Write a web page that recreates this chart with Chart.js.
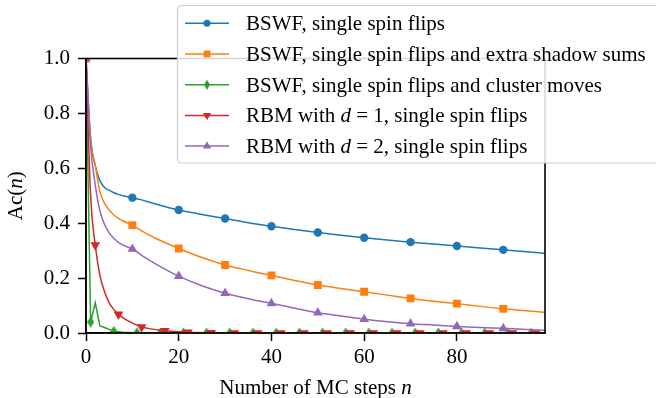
<!DOCTYPE html>
<html>
<head>
<meta charset="utf-8">
<script src="https://cdn.jsdelivr.net/npm/chart.js@4.4.0/dist/chart.umd.min.js"></script>
<style>
  html, body { margin: 0; padding: 0; background: #fff; }
  #wrap { width: 656px; height: 398px; }
</style>
</head>
<body>
<div id="wrap"><canvas id="acChart" width="656" height="398"></canvas></div>
<script>
// MC steps at which the smooth curves were sampled
const stepsSmooth = [0, 1, 2, 3, 4, 5, 6, 7, 8, 10, 12, 15, 20, 25, 30, 35, 40, 45, 50, 55, 60, 65, 70, 75, 80, 85, 90, 95, 99];
const bswfSingle = [1.0, 0.71, 0.61, 0.555, 0.53, 0.52, 0.511, 0.505, 0.5, 0.493, 0.485, 0.47, 0.448, 0.432, 0.417, 0.402, 0.389, 0.377, 0.366, 0.356, 0.347, 0.339, 0.331, 0.324, 0.317, 0.31, 0.303, 0.296, 0.29];
const bswfShadow = [1.0, 0.7, 0.61, 0.515, 0.472, 0.448, 0.43, 0.418, 0.408, 0.393, 0.372, 0.345, 0.308, 0.275, 0.248, 0.228, 0.21, 0.191, 0.175, 0.162, 0.15, 0.138, 0.126, 0.116, 0.107, 0.097, 0.088, 0.081, 0.075];
const rbmD2 = [1.0, 0.68, 0.54, 0.445, 0.395, 0.365, 0.345, 0.33, 0.32, 0.306, 0.283, 0.252, 0.207, 0.172, 0.145, 0.125, 0.108, 0.09, 0.074, 0.062, 0.05, 0.041, 0.034, 0.029, 0.024, 0.02, 0.017, 0.013, 0.01];

const stepsCluster = [0, 1, 2, 3, 4, 5, 6, 8, 11, 16, 21, 26, 31, 36, 41, 46, 51, 56, 61, 66, 71, 76, 81, 86, 91, 96, 99];
const bswfCluster = [1.0, 0.04, 0.11, 0.026, 0.02, 0.013, 0.006, 0.003, 0.001, 0, 0, 0, 0, 0, 0, 0, 0, 0, 0, 0, 0, 0, 0, 0, 0, 0, 0];

const stepsRbm1 = [0, 1, 2, 3, 4, 5, 6, 7, 8, 10, 12, 14, 17, 22, 27, 32, 37, 42, 47, 52, 57, 62, 67, 72, 77, 82, 87, 92, 97, 99];
const rbmD1 = [1.0, 0.5, 0.32, 0.21, 0.15, 0.11, 0.086, 0.068, 0.055, 0.036, 0.022, 0.015, 0.008, 0.003, 0.001, 0, 0, 0, 0, 0, 0, 0, 0, 0, 0, 0, 0, 0, 0, 0];

// where markers are drawn
const marksTen = [0, 10, 20, 30, 40, 50, 60, 70, 80, 90];
const marksCluster = [1, 6, 11, 16, 21, 26, 31, 36, 41, 46, 51, 56, 61, 66, 71, 76, 81, 86, 91, 96];
const marksRbm1 = [2, 7, 12, 17, 22, 27, 32, 37, 42, 47, 52, 57, 62, 67, 72, 77, 82, 87, 92, 97];

const xTicks = [0, 20, 40, 60, 80];
const yTicks = [0.0, 0.2, 0.4, 0.6, 0.8, 1.0];

const FONT = "'Liberation Serif', 'Times New Roman', serif";
const FSIZE = 21;

// thin diamond like matplotlib's 'd'
function thinDiamond(color, w, h) {
    const c = document.createElement('canvas');
    c.width = w; c.height = h;
    const g = c.getContext('2d');
    g.fillStyle = color;
    g.beginPath();
    g.moveTo(w / 2, 0);
    g.lineTo(w, h / 2);
    g.lineTo(w / 2, h);
    g.lineTo(0, h / 2);
    g.closePath();
    g.fill();
    return c;
}
const diamondImg = thinDiamond('#2ca02c', 7, 11);
const diamondLegend = thinDiamond('#2ca02c', 6, 10);

const series = [
    { label: ['BSWF, single spin flips'], color: '#1f77b4', steps: stepsSmooth, vals: bswfSingle, marks: marksTen, style: 'circle', radius: 4.2, rot: 0, smooth: true },
    { label: ['BSWF, single spin flips and extra shadow sums'], color: '#ff7f0e', steps: stepsSmooth, vals: bswfShadow, marks: marksTen, style: 'rect', radius: 5.6, rot: 0, smooth: true },
    { label: ['BSWF, single spin flips and cluster moves'], color: '#2ca02c', steps: stepsCluster, vals: bswfCluster, marks: marksCluster, style: diamondImg, legendStyle: diamondLegend, radius: 5, rot: 0, smooth: false },
    { label: ['RBM with ', 'd', ' = 1, single spin flips'], color: '#d62728', steps: stepsRbm1, vals: rbmD1, marks: marksRbm1, style: 'triangle', radius: 5.6, rot: 180, smooth: true },
    { label: ['RBM with ', 'd', ' = 2, single spin flips'], color: '#9467bd', steps: stepsSmooth, vals: rbmD2, marks: marksTen, style: 'triangle', radius: 5.6, rot: 0, smooth: true }
];

const datasets = series.map(function (s, i) {
    return {
        data: s.steps.map(function (x, j) { return { x: x, y: s.vals[j] }; }),
        borderColor: s.color,
        backgroundColor: s.color,
        borderWidth: 1.5,
        cubicInterpolationMode: s.smooth ? 'monotone' : 'default',
        tension: 0,
        pointStyle: s.style,
        pointRotation: s.rot,
        pointBorderWidth: 0,
        pointRadius: function (ctx) {
            return s.marks.includes(s.steps[ctx.dataIndex]) ? s.radius : 0;
        },
        pointHoverRadius: 0,
        order: series.length - i
    };
});

// spines, axis titles with italic parts, and the legend box
const framePlugin = {
    id: 'frame',
    afterDatasetsDraw: function (chart) {
        const a = chart.chartArea;
        const ctx = chart.ctx;
        ctx.save();
        ctx.strokeStyle = '#000';
        ctx.lineWidth = 1.6;
        ctx.strokeRect(a.left, a.top, a.right - a.left, a.bottom - a.top);
        ctx.restore();
    },
    afterDraw: function (chart) {
        const a = chart.chartArea;
        const ctx = chart.ctx;
        ctx.save();
        ctx.fillStyle = '#000';
        ctx.textBaseline = 'alphabetic';

        function runs(parts, size) {
            // parts alternate upright / italic
            return parts.map(function (p, k) {
                const f = (k % 2 === 1 ? 'italic ' : '') + size + 'px ' + FONT;
                ctx.font = f;
                return { t: p, f: f, w: ctx.measureText(p).width };
            });
        }
        function drawRuns(rs, x, y) {
            rs.forEach(function (r) {
                ctx.font = r.f;
                ctx.fillText(r.t, x, y);
                x += r.w;
            });
        }

        // x title
        const xr = runs(['Number of MC steps ', 'n'], FSIZE);
        const xw = xr.reduce(function (s, r) { return s + r.w; }, 0);
        drawRuns(xr, (a.left + a.right) / 2 - xw / 2, 394);

        // y title
        const yr = runs(['Ac(', 'n', ')'], FSIZE);
        const yw = yr.reduce(function (s, r) { return s + r.w; }, 0);
        ctx.save();
        ctx.translate(22, (a.top + a.bottom) / 2);
        ctx.rotate(-Math.PI / 2);
        drawRuns(yr, -yw / 2, 0);
        ctx.restore();

        // legend
        const bx = 177.5, by = 5.5, bw = 560, bh = 157.5;
        ctx.beginPath();
        ctx.roundRect(bx, by, bw, bh, 4);
        ctx.fillStyle = 'rgba(255,255,255,0.85)';
        ctx.fill();
        ctx.strokeStyle = '#cccccc';
        ctx.lineWidth = 1.2;
        ctx.stroke();

        series.forEach(function (s, i) {
            const cy = 23.3 + i * 30.7;
            ctx.strokeStyle = s.color;
            ctx.lineWidth = 1.5;
            ctx.beginPath();
            ctx.moveTo(185, cy);
            ctx.lineTo(229, cy);
            ctx.stroke();
            ctx.fillStyle = s.color;
            Chart.helpers.drawPoint(ctx, {
                pointStyle: s.legendStyle || s.style,
                radius: s.radius * 0.85,
                rotation: s.rot,
                borderWidth: 0
            }, 207, cy);
            ctx.fillStyle = '#000';
            drawRuns(runs(s.label, FSIZE), 246, cy + 7);
        });
        ctx.restore();
    }
};

new Chart(document.getElementById('acChart').getContext('2d'), {
    type: 'line',
    data: { datasets: datasets },
    options: {
        responsive: false,
        animation: false,
        events: [],
        layout: { padding: { left: 0, top: 58.5, right: 111, bottom: 0 } },
        plugins: { legend: { display: false }, tooltip: { enabled: false } },
        scales: {
            x: {
                type: 'linear',
                min: 0,
                max: 99,
                afterFit: function (scale) { scale.height = 65; },
                afterBuildTicks: function (scale) { scale.ticks = xTicks.map(function (v) { return { value: v }; }); },
                ticks: { color: '#000', font: { family: FONT, size: FSIZE }, padding: 4, maxRotation: 0 },
                grid: { display: true, drawOnChartArea: false, drawTicks: true, tickLength: 8, tickWidth: 1.5, tickColor: '#000' },
                border: { display: true, color: '#000', width: 1.6 }
            },
            y: {
                type: 'linear',
                min: 0,
                max: 1,
                afterFit: function (scale) { scale.width = 86; },
                afterBuildTicks: function (scale) { scale.ticks = yTicks.map(function (v) { return { value: v }; }); },
                ticks: { color: '#000', font: { family: FONT, size: FSIZE }, padding: 8, callback: function (v) { return v.toFixed(1); } },
                grid: { display: true, drawOnChartArea: false, drawTicks: true, tickLength: 8, tickWidth: 1.5, tickColor: '#000' },
                border: { display: true, color: '#000', width: 1.6 }
            }
        }
    },
    plugins: [framePlugin]
});
</script>
</body>
</html>
